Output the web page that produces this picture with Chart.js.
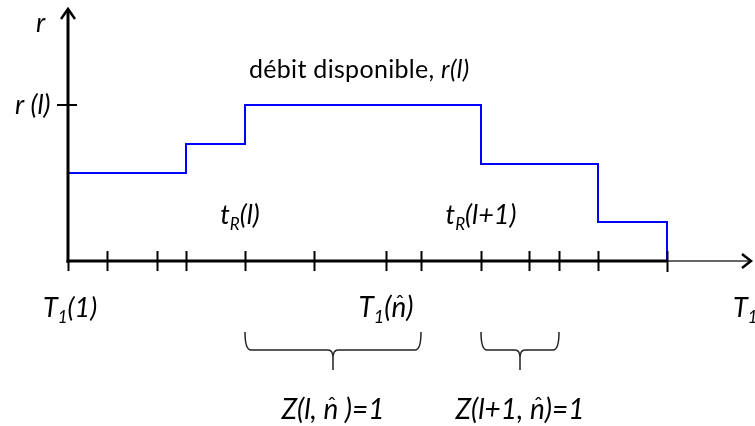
<!DOCTYPE html>
<html>
<head>
<meta charset="utf-8">
<script src="https://cdn.jsdelivr.net/npm/chart.js@4/dist/chart.umd.min.js"></script>
<style>
  html, body { margin: 0; padding: 0; background: #fff; }
  #wrap { width: 755px; height: 426px; }
</style>
</head>
<body>
<div id="wrap"><canvas id="chart"></canvas></div>
<script>
// step function: start of each level along T1, and the rate on it
const stepStarts = [0, 118, 177, 413, 530, 599];
const rateLevels = [88, 117, 156, 97, 39];
// tick marks along the T1 axis
const tickPositions = [0, 39, 89, 118, 177, 246, 318, 353, 413, 461, 491, 530, 599];
// r(l) level marked on the r axis
const rMark = 156;
// braces (from, to) on the T1 axis
const braceRanges = [[177, 353], [413, 491]];
const xMax = 684;
const yMax = 253;

const FONT = 'Lato, "Open Sans", sans-serif';

// build the step line points
const stepPoints = [];
for (let i = 0; i < rateLevels.length; i++) {
  stepPoints.push({ x: stepStarts[i], y: rateLevels[i] });
}
stepPoints.push({ x: stepStarts[stepStarts.length - 1], y: 0 });

/**
 * Draw a label made of parts: {t, sub, hat}
 */
function drawParts(ctx, parts, x, y, size, align) {
  const main = 'italic ' + size + 'px ' + FONT;
  const small = 'italic ' + Math.round(size * 0.64) + 'px ' + FONT;
  let total = 0;
  parts.forEach(p => {
    ctx.font = p.sub ? small : main;
    p.w = ctx.measureText(p.t).width;
    total += p.w;
  });
  let cx = x;
  if (align === 'center') cx = x - total / 2;
  ctx.textAlign = 'left';
  ctx.textBaseline = 'alphabetic';
  parts.forEach(p => {
    ctx.font = p.sub ? small : main;
    ctx.fillText(p.t, cx, p.sub ? y + size * 0.22 : y);
    if (p.hat) {
      ctx.font = Math.round(size * 0.8) + 'px ' + FONT;
      ctx.textAlign = 'center';
      ctx.fillText('\u02C6', cx + p.w / 2 + 1, y - size * 0.2);
      ctx.textAlign = 'left';
    }
    cx += p.w;
  });
}

function drawBrace(ctx, x1, x2, top, mid, tip) {
  const xm = (x1 + x2) / 2;
  ctx.beginPath();
  ctx.moveTo(x1, top);
  ctx.quadraticCurveTo(x1, mid, x1 + 6, mid);
  ctx.lineTo(xm - 5, mid);
  ctx.quadraticCurveTo(xm, mid, xm, mid + 8);
  ctx.lineTo(xm, tip);
  ctx.moveTo(x2, top);
  ctx.quadraticCurveTo(x2, mid, x2 - 6, mid);
  ctx.lineTo(xm + 5, mid);
  ctx.quadraticCurveTo(xm, mid, xm, mid + 8);
  ctx.stroke();
}

const diagramPlugin = {
  id: 'diagram',
  afterDatasetsDraw(chart) {
    const ctx = chart.ctx;
    const xs = chart.scales.x;
    const ys = chart.scales.y;
    const x0 = xs.getPixelForValue(0);
    const y0 = ys.getPixelForValue(0);
    const xEnd = xs.getPixelForValue(xMax);
    const yTop = ys.getPixelForValue(yMax);
    const lastX = xs.getPixelForValue(stepStarts[stepStarts.length - 1]);

    ctx.save();
    ctx.strokeStyle = '#000';
    ctx.lineCap = 'butt';

    // r axis
    ctx.lineWidth = 3;
    ctx.beginPath();
    ctx.moveTo(x0, y0 + 2);
    ctx.lineTo(x0, yTop + 1);
    ctx.stroke();
    ctx.lineWidth = 2.5;
    ctx.beginPath();
    ctx.moveTo(x0 - 7, yTop + 11);
    ctx.lineTo(x0, yTop + 1);
    ctx.lineTo(x0 + 7, yTop + 11);
    ctx.stroke();

    // T1 axis
    ctx.lineWidth = 3;
    ctx.beginPath();
    ctx.moveTo(x0 - 1.5, y0);
    ctx.lineTo(lastX, y0);
    ctx.stroke();
    ctx.strokeStyle = '#666';
    ctx.lineWidth = 2;
    ctx.beginPath();
    ctx.moveTo(lastX, y0);
    ctx.lineTo(xEnd - 1, y0);
    ctx.stroke();
    ctx.strokeStyle = '#000';
    ctx.lineWidth = 2.5;
    ctx.beginPath();
    ctx.moveTo(xEnd - 10, y0 - 7);
    ctx.lineTo(xEnd - 1, y0);
    ctx.lineTo(xEnd - 10, y0 + 7);
    ctx.stroke();

    // ticks
    ctx.lineWidth = 2;
    tickPositions.forEach((v, i) => {
      const px = Math.round(xs.getPixelForValue(v)) + 0.5;
      ctx.beginPath();
      ctx.moveTo(px, v === 0 ? y0 : y0 - 10);
      ctx.lineTo(px, y0 + (i === tickPositions.length - 1 ? 11 : 10));
      ctx.stroke();
    });
    const ry = ys.getPixelForValue(rMark);
    ctx.beginPath();
    ctx.moveTo(x0 - 11, ry);
    ctx.lineTo(x0 + 9, ry);
    ctx.stroke();

    // braces
    ctx.strokeStyle = '#222';
    ctx.lineWidth = 1.5;
    braceRanges.forEach(([a, b]) => {
      drawBrace(ctx, xs.getPixelForValue(a), xs.getPixelForValue(b), y0 + 71, y0 + 89, y0 + 109);
    });

    // texts
    ctx.fillStyle = '#000';
    drawParts(ctx, [{ t: 'r' }], x0 - 32, yTop + 24, 27, 'left');
    drawParts(ctx, [{ t: 'r (l)' }], x0 - 53, ry + 9, 27, 'left');

    ctx.font = '25px ' + FONT;
    ctx.textAlign = 'left';
    ctx.textBaseline = 'alphabetic';
    ctx.letterSpacing = '0.3px';
    const txt = 'débit disponible, ';
    const tx = 249;
    ctx.fillText(txt, tx, 78);
    const w = ctx.measureText(txt).width;
    ctx.font = 'italic 25px ' + FONT;
    ctx.fillText('r(l)', tx + w, 78);
    ctx.letterSpacing = '0px';

    const tr1 = xs.getPixelForValue(stepStarts[2]);
    const tr2 = xs.getPixelForValue(stepStarts[3]);
    drawParts(ctx, [{ t: 't' }, { t: 'R', sub: true }, { t: '(l)' }], tr1 - 5, y0 - 37, 27, 'center');
    drawParts(ctx, [{ t: 't' }, { t: 'R', sub: true }, { t: '(l+1)' }], tr2, y0 - 37, 27, 'center');

    drawParts(ctx, [{ t: 'T' }, { t: '1', sub: true }, { t: '(1)' }], x0 + 2, y0 + 56, 27, 'center');
    drawParts(ctx, [{ t: 'T' }, { t: '1', sub: true }, { t: '(' }, { t: 'n', hat: true }, { t: ')' }],
      xs.getPixelForValue(318), y0 + 56, 28, 'center');
    drawParts(ctx, [{ t: 'T' }, { t: '1', sub: true }], 733, y0 + 56, 27, 'left');

    const b1 = (xs.getPixelForValue(braceRanges[0][0]) + xs.getPixelForValue(braceRanges[0][1])) / 2;
    const b2 = (xs.getPixelForValue(braceRanges[1][0]) + xs.getPixelForValue(braceRanges[1][1])) / 2;
    drawParts(ctx, [{ t: 'Z(l, ' }, { t: 'n', hat: true }, { t: ' )=1' }], b1, y0 + 158, 28, 'center');
    drawParts(ctx, [{ t: 'Z(l+1, ' }, { t: 'n', hat: true }, { t: ')=1' }], b2, y0 + 158, 28, 'center');

    ctx.restore();
  }
};

new Chart(document.getElementById('chart'), {
  type: 'line',
  data: {
    datasets: [{
      data: stepPoints,
      stepped: 'before',
      borderColor: '#0000FF',
      borderWidth: 2,
      pointRadius: 0,
      fill: false,
      clip: false
    }]
  },
  options: {
    responsive: true,
    maintainAspectRatio: false,
    animation: false,
    layout: { padding: { left: 68, right: 3, top: 8, bottom: 165 } },
    plugins: { legend: { display: false }, tooltip: { enabled: false } },
    scales: {
      x: { type: 'linear', min: 0, max: xMax, display: false },
      y: { type: 'linear', min: 0, max: yMax, display: false }
    }
  },
  plugins: [diagramPlugin]
});
</script>
</body>
</html>
